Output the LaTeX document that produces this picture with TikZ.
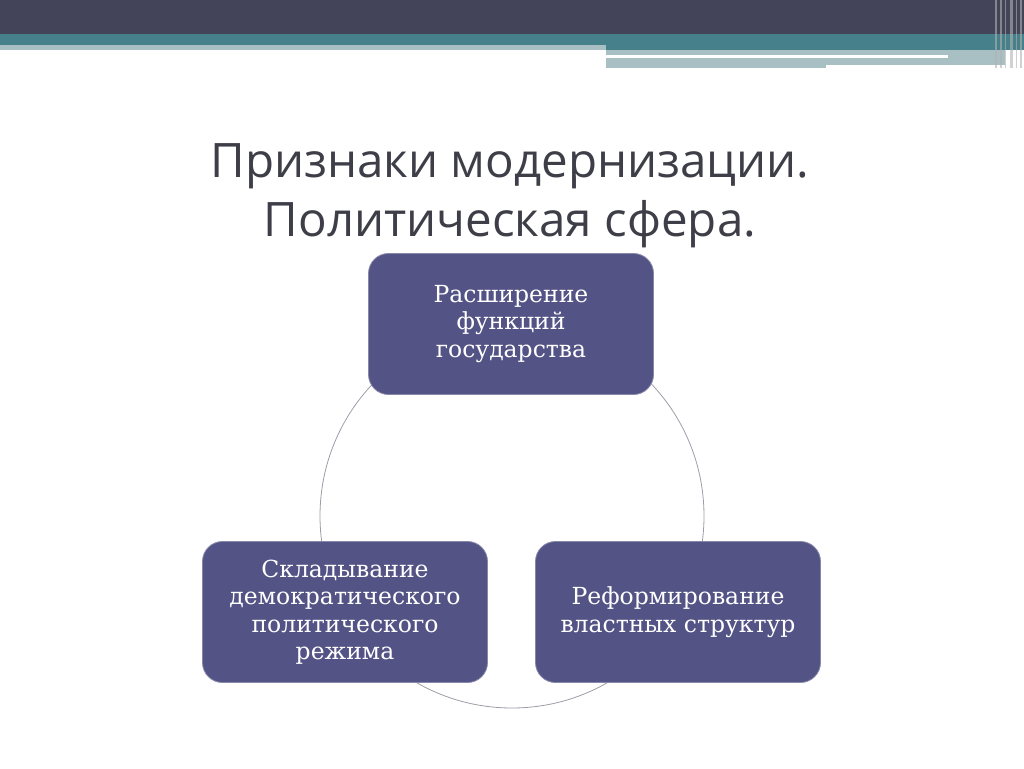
\documentclass[tikz,border=0pt]{standalone}
\usepackage{fontspec}
\setmainfont{DejaVu Serif}
\newfontfamily\titlefont{Open Sans}
\definecolor{barDark}{HTML}{43435A}
\definecolor{barTeal}{HTML}{46808A}
\definecolor{barLight}{HTML}{A8C0C3}
\definecolor{boxFill}{HTML}{535386}
\definecolor{ringGray}{HTML}{9C9CA8}
\definecolor{titleGray}{HTML}{3E3E48}
\tikzset{
  stagebox/.style={rectangle, rounded corners=20pt, fill=boxFill, draw=boxFill!70!white,
    line width=0.8pt, minimum width=285pt, minimum height=141pt, text=white,
    align=center, font=\fontsize{23.5}{27.5}\selectfont}
}
\begin{document}
\begin{tikzpicture}[x=1pt,y=-1pt]
    \useasboundingbox (0,0) rectangle (1024,768);

    % draw the header bars
    \fill[barDark] (0,0) rectangle (1024,34);
    \fill[barTeal] (0,34) rectangle (1024,45);
    \fill[barTeal] (606,45) rectangle (1024,50);
    \fill[barLight] (0,45) rectangle (606,50);
    \fill[barLight] (606,50) rectangle (1005,68);
    \fill[white] (606,55) rectangle (948,58);
    \fill[white] (826,65) rectangle (1005,68);
    \foreach \x/\w in {995/1.5, 1000/2, 1005/1, 1010/2.5, 1016/1, 1020/2}
        \fill[gray!60, opacity=0.6] (\x,0) rectangle (\x+\w,68);

    % draw the title
    \node[font=\titlefont\fontsize{47.5}{59}\selectfont, text=titleGray, align=center] (title)
        at (510,196) {Признаки модернизации.\\Политическая сфера.};

    % draw the ring
    \coordinate (hub) at (512,516);
    \draw[ringGray, line width=0.8pt] (hub) circle(192);

    % the three stages
    \node[stagebox] (functions) at (511,324) {Расширение\\функций\\государства};
    \node[stagebox] (reform) at (678,612) {Реформирование\\властных структур};
    \node[stagebox] (regime) at (345,612) {Складывание\\демократического\\политического\\режима};
\end{tikzpicture}
\end{document}
